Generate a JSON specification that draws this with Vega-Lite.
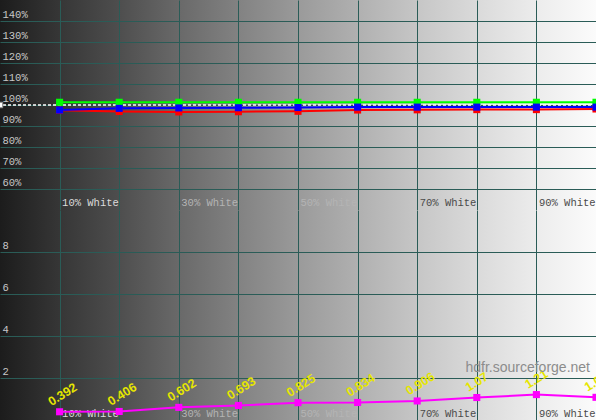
{
  "$schema": "https://vega.github.io/schema/vega-lite/v6.json",
  "description": "Grey scale RGB balance and delta E, 10% to 100% white",
  "padding": 0,
  "spacing": 0,
  "bounds": "flush",
  "config": {
    "view": {
      "stroke": null,
      "fill": {
        "gradient": "linear",
        "x1": 0, "y1": 0, "x2": 1, "y2": 0,
        "stops": [
          {"offset": 0, "color": "#1c1c1c"},
          {"offset": 0.1, "color": "#363636"},
          {"offset": 0.2, "color": "#4e4e4e"},
          {"offset": 0.3, "color": "#696969"},
          {"offset": 0.4, "color": "#828282"},
          {"offset": 0.5, "color": "#9a9a9a"},
          {"offset": 0.6, "color": "#b0b0b0"},
          {"offset": 0.7, "color": "#c6c6c6"},
          {"offset": 0.8, "color": "#dadada"},
          {"offset": 0.9, "color": "#ececec"},
          {"offset": 1, "color": "#fbfbfb"}
        ]
      }
    },
    "axis": {
      "domain": false,
      "ticks": false,
      "title": null,
      "gridColor": "#2a5c57",
      "gridOpacity": 1,
      "gridWidth": 1,
      "labelFont": "Liberation Mono",
      "labelFontSize": 10.5,
      "labelOverlap": false,
      "labelFlush": false,
      "labelBound": false
    }
  },
  "datasets": {
    "rgb": [
      {"pct": 10, "ch": "G", "v": 101.3}, {"pct": 20, "ch": "G", "v": 101.3},
      {"pct": 30, "ch": "G", "v": 101.3}, {"pct": 40, "ch": "G", "v": 101.3},
      {"pct": 50, "ch": "G", "v": 101.3}, {"pct": 60, "ch": "G", "v": 101.3},
      {"pct": 70, "ch": "G", "v": 101.3}, {"pct": 80, "ch": "G", "v": 101.3},
      {"pct": 90, "ch": "G", "v": 101.3}, {"pct": 100, "ch": "G", "v": 101.3},
      {"pct": 10, "ch": "R", "v": 97.5}, {"pct": 20, "ch": "R", "v": 96.9},
      {"pct": 30, "ch": "R", "v": 96.7}, {"pct": 40, "ch": "R", "v": 96.8},
      {"pct": 50, "ch": "R", "v": 97.0}, {"pct": 60, "ch": "R", "v": 97.6},
      {"pct": 70, "ch": "R", "v": 97.7}, {"pct": 80, "ch": "R", "v": 97.8},
      {"pct": 90, "ch": "R", "v": 97.8}, {"pct": 100, "ch": "R", "v": 98.1},
      {"pct": 10, "ch": "B", "v": 97.6}, {"pct": 20, "ch": "B", "v": 98.4},
      {"pct": 30, "ch": "B", "v": 98.6}, {"pct": 40, "ch": "B", "v": 98.7},
      {"pct": 50, "ch": "B", "v": 98.8}, {"pct": 60, "ch": "B", "v": 99.0},
      {"pct": 70, "ch": "B", "v": 99.0}, {"pct": 80, "ch": "B", "v": 99.0},
      {"pct": 90, "ch": "B", "v": 99.0}, {"pct": 100, "ch": "B", "v": 99.0}
    ],
    "ref": [{"pct": 0, "level": 100}],
    "deltae": [
      {"pct": 10, "de": 0.392, "label": "0.392"},
      {"pct": 20, "de": 0.406, "label": "0.406"},
      {"pct": 30, "de": 0.602, "label": "0.602"},
      {"pct": 40, "de": 0.693, "label": "0.693"},
      {"pct": 50, "de": 0.825, "label": "0.825"},
      {"pct": 60, "de": 0.834, "label": "0.834"},
      {"pct": 70, "de": 0.906, "label": "0.906"},
      {"pct": 80, "de": 1.07, "label": "1.07"},
      {"pct": 90, "de": 1.21, "label": "1.21"},
      {"pct": 100, "de": 1.08, "label": "1.08"}
    ],
    "mark": [{"pct": 100, "de": 2.5, "text": "hdfr.sourceforge.net"}]
  },
  "vconcat": [
    {
      "width": 596,
      "height": 210,
      "encoding": {
        "x": {
          "field": "pct", "type": "quantitative",
          "scale": {"domain": [0, 100], "nice": false, "zero": false},
          "axis": {
            "orient": "bottom",
            "values": [10, 20, 30, 40, 50, 60, 70, 80, 90],
            "labelExpr": "datum.value % 20 == 10 ? datum.value + '% White' : ''",
            "labelAlign": "left",
            "labelBaseline": "bottom",
            "labelPadding": -3,
            "labelOffset": 2,
            "labelOverlap": false,
            "labelColor": {
              "condition": [
                {"test": "datum.value <= 10", "value": "#dcdcdc"},
                {"test": "datum.value <= 50", "value": "#b4b4b4"}
              ],
              "value": "#4a4a4a"
            }
          }
        },
        "y": {
          "field": "v", "type": "quantitative",
          "scale": {"domain": [50, 150], "nice": false, "zero": false},
          "axis": {
            "orient": "left",
            "values": [60, 70, 80, 90, 100, 110, 120, 130, 140],
            "labelExpr": "datum.value + '%'",
            "labelAlign": "left",
            "labelBaseline": "bottom",
            "labelPadding": -2,
            "labelOffset": -2,
            "labelOverlap": false,
            "labelSeparation": 0,
            "labelColor": "#c8c8c8"
          }
        }
      },
      "layer": [
        {
          "data": {"name": "rgb"},
          "mark": {"type": "line", "strokeWidth": 2, "clip": true},
          "encoding": {
            "color": {
              "field": "ch", "type": "nominal",
              "scale": {"domain": ["G", "R", "B"], "range": ["#00ff00", "#ff0000", "#0000ff"]},
              "legend": null
            }
          }
        },
        {
          "data": {"name": "ref"},
          "mark": {"type": "rule", "color": "#ffffff", "strokeDash": [3, 2], "strokeWidth": 1.5, "clip": true},
          "encoding": {"y": {"field": "level", "type": "quantitative"}, "x": null}
        },
        {
          "data": {"name": "ref"},
          "mark": {"type": "point", "shape": "square", "filled": true, "size": 30, "color": "#ffffff", "stroke": "#888888", "strokeWidth": 1, "opacity": 1, "clip": true},
          "encoding": {"y": {"field": "level", "type": "quantitative"}}
        },
        {
          "data": {"name": "rgb"},
          "mark": {"type": "point", "shape": "square", "filled": true, "size": 50, "opacity": 1, "clip": true},
          "encoding": {
            "color": {"field": "ch", "type": "nominal"}
          }
        }
      ]
    },
    {
      "width": 596,
      "height": 210,
      "encoding": {
        "x": {
          "field": "pct", "type": "quantitative",
          "scale": {"domain": [0, 100], "nice": false, "zero": false},
          "axis": {
            "orient": "bottom",
            "values": [10, 20, 30, 40, 50, 60, 70, 80, 90],
            "labelExpr": "datum.value % 20 == 10 ? datum.value + '% White' : ''",
            "labelAlign": "left",
            "labelBaseline": "bottom",
            "labelPadding": -2,
            "labelOffset": 2,
            "labelOverlap": false,
            "labelColor": {
              "condition": [
                {"test": "datum.value <= 10", "value": "#dcdcdc"},
                {"test": "datum.value <= 50", "value": "#b4b4b4"}
              ],
              "value": "#4a4a4a"
            }
          }
        },
        "y": {
          "field": "de", "type": "quantitative",
          "scale": {"domain": [0, 10], "nice": false, "zero": false},
          "axis": {
            "orient": "left",
            "values": [2, 4, 6, 8],
            "labelAlign": "left",
            "labelBaseline": "bottom",
            "labelPadding": -2,
            "labelOffset": -2,
            "labelOverlap": false,
            "labelColor": "#c8c8c8"
          }
        }
      },
      "layer": [
        {
          "data": {"name": "deltae"},
          "mark": {"type": "line", "color": "#ff00ff", "strokeWidth": 2, "clip": true}
        },
        {
          "data": {"name": "deltae"},
          "mark": {"type": "point", "shape": "square", "filled": true, "size": 50, "color": "#ff00ff", "opacity": 1, "clip": true}
        },
        {
          "data": {"name": "deltae"},
          "mark": {"type": "text", "angle": -32, "align": "left", "baseline": "bottom", "dx": -4, "dy": -6, "font": "Liberation Sans", "fontSize": 12.5, "fontWeight": "bold", "color": "#e6e600", "clip": true},
          "encoding": {"text": {"field": "label"}}
        },
        {
          "data": {"name": "mark"},
          "mark": {"type": "text", "align": "right", "baseline": "middle", "dx": -6, "font": "Liberation Sans", "fontSize": 14, "color": "#8c8c8c", "clip": true},
          "encoding": {"text": {"field": "text"}}
        }
      ]
    }
  ]
}
